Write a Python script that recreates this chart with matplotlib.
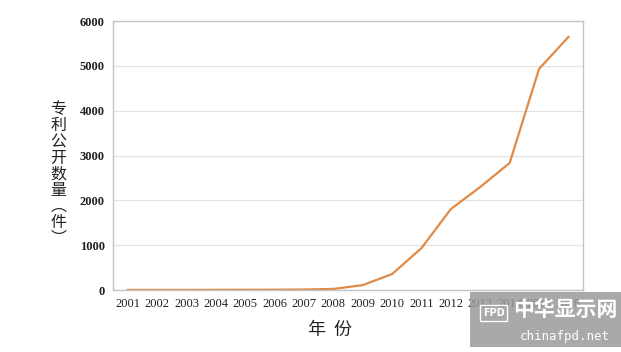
import matplotlib.pyplot as plt
from matplotlib.patches import Rectangle

years = [str(y) for y in range(2001, 2017)]
counts = [2, 3, 3, 5, 6, 8, 12, 25, 110, 357, 937, 1808, 2300, 2835, 4933, 5647]
yticks = [0, 1000, 2000, 3000, 4000, 5000, 6000]
ylabel = "专利公开数量\ufe35件\ufe36"

plt.rcParams["font.family"] = ["Liberation Serif", "Noto Sans CJK SC", "DejaVu Sans"]

fig = plt.figure(figsize=(6.21, 3.52), dpi=100)
ax = fig.add_axes([0.182, 0.176, 0.757, 0.764])

x = range(len(years))
ax.plot(x, counts, color="#e08a45", linewidth=1.6)

ax.set_xlim(-0.5, len(years) - 0.5)
ax.set_ylim(0, 6000)
ax.set_xticks(list(x))
ax.set_xticklabels(years, fontsize=9)
ax.set_yticks(yticks)
ax.set_yticklabels([str(v) for v in yticks], fontsize=9, fontweight="bold")
ax.tick_params(length=0, pad=6, colors="#222222")
ax.grid(axis="y", color="#e3e3e3", linewidth=0.9)
ax.set_axisbelow(True)
for s in ax.spines.values():
    s.set_color("#c4c4c4")
    s.set_linewidth(1.0)

fig.text(0.094, 0.505, "\n".join(ylabel), ha="center", va="center",
         fontsize=11.5, family=["Noto Sans CJK SC"], linespacing=0.93, color="#222222")
fig.text(0.532, 0.063, "年  份", ha="center", va="center",
         fontsize=13, family=["Noto Sans CJK SC"], color="#222222")

# watermark box
fig.patches.append(Rectangle((0.757, 0.015), 0.243, 0.156, transform=fig.transFigure,
                             facecolor="#9a9a9a", alpha=0.85, edgecolor="none"))
fig.text(0.795, 0.11, "FPD", ha="center", va="center", fontsize=7, color="white",
         family=["DejaVu Sans"], fontweight="bold",
         bbox=dict(boxstyle="square,pad=0.3", facecolor="none", edgecolor="white"))
fig.text(0.91, 0.12, "中华显示网", ha="center", va="center", fontsize=15,
         color="white", family=["Noto Sans CJK SC"], fontweight="bold")
fig.text(0.91, 0.045, "chinafpd.net", ha="center", va="center", fontsize=9,
         color="white", family=["DejaVu Sans Mono"])

fig.savefig("out.png", dpi=100)
